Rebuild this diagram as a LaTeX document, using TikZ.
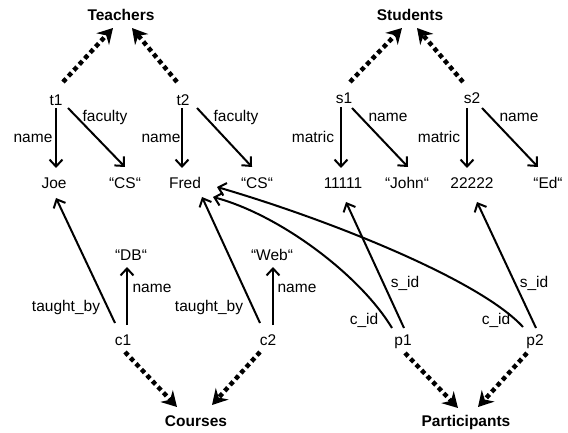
\documentclass[tikz,border=0pt]{standalone}
\usepackage{fontspec}
\setmainfont{Liberation Sans}
\usetikzlibrary{arrows.meta,calc}
\begin{document}
\begin{tikzpicture}[x=1pt,y=-1pt,
  every node/.style={font=\fontsize{15.5}{18}\selectfont, inner sep=0pt, text height=11pt, text depth=0pt},
  title/.style={font=\fontsize{15.5}{18}\selectfont\bfseries},
  lbl/.style={},
  rel/.style={line width=2pt, -{Straight Barb[length=7pt,width=13pt]}},
  inst/.style={line width=4.5pt, dash pattern=on 4.5pt off 3.5pt, -{Stealth[length=15pt,width=17pt,inset=5pt]}}]
\useasboundingbox (0,0) rectangle (568,433);
% class nodes
\node[title] (Teachers) at (121,15) {Teachers};
\node[title] (Students) at (410,15) {Students};
\node[title] (Courses) at (196,421) {Courses};
\node[title] (Participants) at (466,421) {Participants};
% objects
\node (t1) at (56,100) {t1};
\node (t2) at (183,100) {t2};
\node (s1) at (344,98) {s1};
\node (s2) at (472,98) {s2};
\node (Joe) at (54,183) {Joe};
\node (CS1) at (125,183) {“CS“};
\node (Fred) at (185,183) {Fred};
\node (CS2) at (257,183) {“CS“};
\node (n11111) at (343,183) {11111};
\node (John) at (407,183) {“John“};
\node (n22222) at (472,183) {22222};
\node (Ed) at (548,183) {“Ed“};
\node (DB) at (131,255) {“DB“};
\node (Web) at (272,255) {“Web“};
\node (c1) at (123,340) {c1};
\node (c2) at (268,340) {c2};
\node (p1) at (403,340) {p1};
\node (p2) at (535,340) {p2};
% edge labels
\node[lbl] (l1) at (33,137) {name};
\node[lbl] (l2) at (105,116) {faculty};
\node[lbl] (l3) at (161,137) {name};
\node[lbl] (l4) at (236,116) {faculty};
\node[lbl] (l5) at (313,137) {matric};
\node[lbl] (l6) at (388,116) {name};
\node[lbl] (l7) at (439,137) {matric};
\node[lbl] (l8) at (519,116) {name};
\node[lbl] (l9) at (66,306) {taught\_by};
\node[lbl] (l10) at (152,287) {name};
\node[lbl] (l11) at (209,306) {taught\_by};
\node[lbl] (l12) at (297,287) {name};
\node[lbl] (l13) at (405,282) {s\_id};
\node[lbl] (l14) at (364,319) {c\_id};
\node[lbl] (l15) at (534,282) {s\_id};
\node[lbl] (l16) at (496,319) {c\_id};
% instance-of arrows
\draw[inst] ($(t1)+(7,-18)$) -- ($(Teachers)+(-8,13)$);
\draw[inst] ($(t2)+(-6,-18)$) -- ($(Teachers)+(11,13)$);
\draw[inst] ($(s1)+(6,-16)$) -- ($(Students)+(-8,13)$);
\draw[inst] ($(s2)+(-9,-16)$) -- ($(Students)+(7,13)$);
\draw[inst] ($(c1)+(2,12)$) -- ($(Courses)+(-19,-14)$);
\draw[inst] ($(c2)+(-8,12)$) -- ($(Courses)+(16,-16)$);
\draw[inst] ($(p1)+(2,13)$) -- ($(Participants)+(-8,-13)$);
\draw[inst] ($(p2)+(-8,13)$) -- ($(Participants)+(12,-14)$);
% relations
\draw[rel] ($(t1)+(0,8)$) -- ($(Joe)+(2,-15)$);
\draw[rel] ($(t1)+(12,8)$) -- ($(CS1)+(0,-16)$);
\draw[rel] ($(t2)+(-1,8)$) -- ($(Fred)+(-3,-15)$);
\draw[rel] ($(t2)+(14,8)$) -- ($(CS2)+(-5,-16)$);
\draw[rel] ($(s1)+(-3,9)$) -- ($(n11111)+(-2,-15)$);
\draw[rel] ($(s1)+(8,10)$) -- ($(John)+(1,-16)$);
\draw[rel] ($(s2)+(-5,10)$) -- ($(n22222)+(-5,-15)$);
\draw[rel] ($(s2)+(10,10)$) -- ($(Ed)+(-10,-16)$);
\draw[rel] ($(c1)+(-8,-17)$) -- ($(Joe)+(2,15)$);
\draw[rel] ($(c1)+(4,-15)$) -- ($(DB)+(-4,12)$);
\draw[rel] ($(c2)+(-8,-17)$) -- ($(Fred)+(17,14)$);
\draw[rel] ($(c2)+(5,-15)$) -- ($(Web)+(1,12)$);
\draw[rel] ($(p1)+(1,-12)$) -- ($(n11111)+(3,19)$);
\draw[rel] ($(p2)+(1,-12)$) -- ($(n22222)+(5,19)$);
\draw[rel] ($(p1)+(-11,-12)$) .. controls ($(p1)+(-43,-65)$) and ($(Fred)+(95,32)$) .. ($(Fred)+(28,14)$);
\draw[rel] ($(p2)+(-12,-13)$) .. controls ($(p2)+(-55,-60)$) and ($(Fred)+(145,37)$) .. ($(Fred)+(32,4)$);
\end{tikzpicture}
\end{document}
